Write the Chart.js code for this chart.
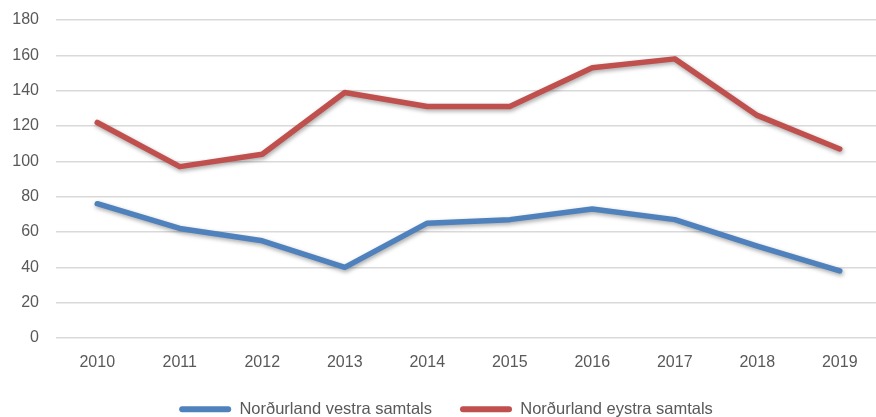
<!DOCTYPE html>
<html>
<head>
<meta charset="utf-8">
<script src="https://cdn.jsdelivr.net/npm/chart.js@4/dist/chart.umd.min.js"></script>
<style>
  html, body { margin: 0; padding: 0; background: #fff; overflow: hidden; }
  #wrap { width: 884px; height: 417px; }
</style>
</head>
<body>
<div id="wrap"><canvas id="myChart"></canvas></div>
<script>
// Ár (x-ás)
const years = ['2010', '2011', '2012', '2013', '2014', '2015', '2016', '2017', '2018', '2019'];
// Gildi lesin af myndinni
const vestra = [76, 62, 55, 40, 65, 67, 73, 67, 52, 38];
const eystra = [122, 97, 104, 139, 131, 131, 153, 158, 126, 107];
const yTicks = [0, 20, 40, 60, 80, 100, 120, 140, 160, 180];

// skuggi undir línunum
const lineShadow = {
    id: 'lineShadow',
    beforeDatasetDraw(chart) {
        const c = chart.ctx;
        c.save();
        c.shadowColor = 'rgba(0,0,0,0.35)';
        c.shadowBlur = 4;
        c.shadowOffsetX = 1;
        c.shadowOffsetY = 2;
    },
    afterDatasetDraw(chart) {
        chart.ctx.restore();
    }
};

document.addEventListener('DOMContentLoaded', function () {
    const ctx = document.getElementById('myChart').getContext('2d');
    Chart.defaults.font.family = '"Liberation Sans", Arial, sans-serif';
    Chart.defaults.font.size = 16;
    Chart.defaults.color = '#595959';

    new Chart(ctx, {
        type: 'line',
        data: {
            labels: years,
            datasets: [{
                label: 'Norðurland vestra samtals',
                data: vestra,
                borderColor: '#4F81BD',
                backgroundColor: '#4F81BD',
                borderWidth: 5.5,
                borderCapStyle: 'round',
                borderJoinStyle: 'round',
                pointRadius: 0,
                tension: 0,
                fill: false
            }, {
                label: 'Norðurland eystra samtals',
                data: eystra,
                borderColor: '#C0504D',
                backgroundColor: '#C0504D',
                borderWidth: 5.5,
                borderCapStyle: 'round',
                borderJoinStyle: 'round',
                pointRadius: 0,
                tension: 0,
                fill: false
            }]
        },
        options: {
            responsive: true,
            maintainAspectRatio: false,
            animation: false,
            layout: { padding: { left: 11, right: 3, top: 20, bottom: -2 } },
            plugins: {
                tooltip: { enabled: false },
                legend: {
                    position: 'bottom',
                    maxHeight: 46,
                    labels: {
                        boxWidth: 52,
                        boxHeight: 6,
                        padding: 28,
                        font: { size: 16.5 },
                        useBorderRadius: true,
                        borderRadius: 3,
                        color: '#595959',
                        generateLabels(chart) {
                            const items = Chart.defaults.plugins.legend.labels.generateLabels(chart);
                            items.forEach(it => { it.lineWidth = 0; });
                            return items;
                        }
                    }
                }
            },
            scales: {
                x: {
                    offset: true,
                    grid: { display: false, drawTicks: false },
                    border: { display: false },
                    ticks: { padding: 15 },
                    afterFit(axis) {
                        axis.height = 35;
                        axis.paddingLeft = 0;
                        axis.paddingRight = 0;
                    }
                },
                y: {
                    min: 0,
                    max: 180,
                    afterBuildTicks(axis) {
                        axis.ticks = yTicks.map(v => ({ value: v }));
                    },
                    grid: { color: '#d9d9d9', lineWidth: 1.6, drawTicks: false },
                    border: { display: false },
                    ticks: { padding: 17 },
                    afterFit(axis) {
                        axis.width = 45;
                        axis.paddingTop = 0;
                        axis.paddingBottom = 0;
                    }
                }
            }
        },
        plugins: [lineShadow]
    });
});
</script>
</body>
</html>
